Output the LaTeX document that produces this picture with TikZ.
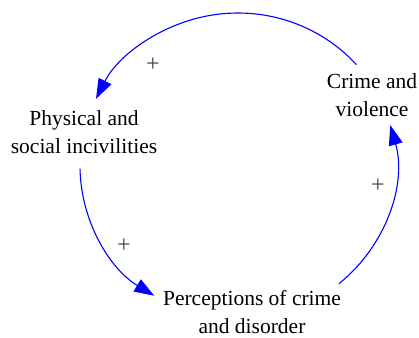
\documentclass[tikz,border=0pt]{standalone}
\usepackage{fontspec}
\setmainfont{Liberation Serif}
\usetikzlibrary{arrows.meta,calc}
\definecolor{linkblue}{RGB}{0,0,255}
\begin{document}
\begin{tikzpicture}[x=1pt,y=1pt,
  var/.style={align=center, inner sep=0pt, font=\fontsize{21.5}{28}\selectfont, anchor=base},
  link/.style={draw=linkblue, line width=1.1pt, -{Triangle[length=20pt,width=14pt]}},
  polarity/.style={text=black!75, inner sep=0pt, font=\fontsize{24}{28}\selectfont}]
\useasboundingbox (0,0) rectangle (419,337);

% variables (base anchor sits on the last line)
\node[var] (crime) at (372,220) {Crime and\\violence};
\node[var] (incivil) at (84,183) {Physical and\\social incivilities};
\node[var] (percept) at (252,4) {Perceptions of crime\\and disorder};

% the loop runs along one ellipse round this point
\coordinate (hub) at (238,171);
\coordinate (crime-out) at ($(hub)+(41.5:158 and 153)$);
\coordinate (incivil-out) at ($(hub)+(181:158 and 153)$);
\coordinate (percept-out) at ($(hub)+(-50.3:158 and 153)$);

\draw[link] (crime-out) arc[start angle=41.5, end angle=154, x radius=158, y radius=153];
\draw[link] (incivil-out) arc[start angle=181, end angle=238, x radius=158, y radius=153];
\draw[link] (percept-out) arc[start angle=-50.3, end angle=15.5, x radius=158, y radius=153];

% link polarities
\node[polarity] (p1) at (153,272) {+};
\node[polarity] (p2) at (124,91) {+};
\node[polarity] (p3) at (378,151) {+};
\end{tikzpicture}
\end{document}
